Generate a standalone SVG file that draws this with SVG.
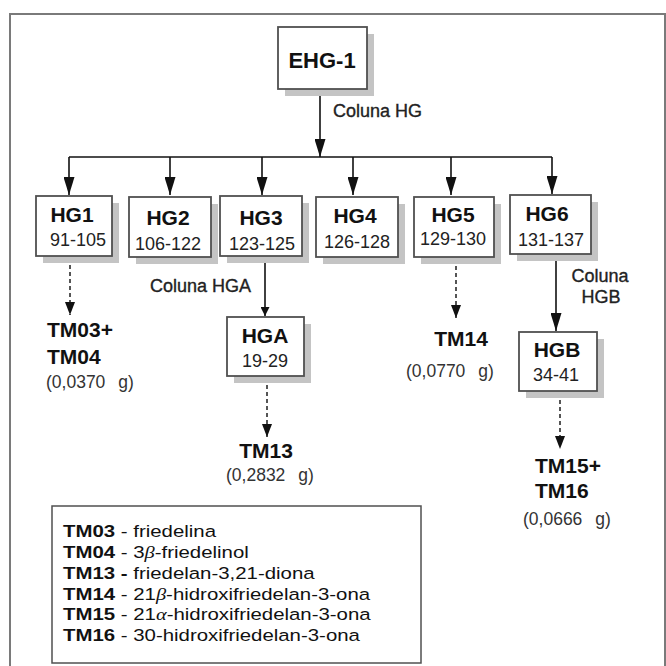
<svg xmlns="http://www.w3.org/2000/svg" width="666" height="666" viewBox="0 0 666 666">
  <style>
    .frame { fill: #ffffff; stroke: #7a7a7a; stroke-width: 2; }
    .shadow { fill: #c4c4c4; }
    .box { fill: #ffffff; stroke: #505050; stroke-width: 1.8; }
    .title { font-family: "Liberation Sans", Arial, sans-serif; font-weight: bold; font-size: 21px; fill: #111; text-anchor: middle; }
    .root { font-size: 22px; }
    .range { font-family: "Liberation Sans", Arial, sans-serif; font-size: 18px; fill: #222; text-anchor: middle; }
    .col { font-family: "Liberation Sans", Arial, sans-serif; font-size: 18px; fill: #222; stroke: #222; stroke-width: 0.35; }
    .prod { font-family: "Liberation Sans", Arial, sans-serif; font-weight: bold; font-size: 21px; fill: #111; }
    .mass { font-family: "Liberation Sans", Arial, sans-serif; font-size: 17.5px; fill: #333; }
    .legend { fill: #ffffff; stroke: #505050; stroke-width: 1.5; }
    .leg { font-family: "Liberation Sans", Arial, sans-serif; font-size: 17px; fill: #111; }
    .leg .k { font-weight: bold; }
    .leg .g { font-family: "Liberation Serif", "Times New Roman", serif; font-style: italic; }
    .solid { fill: none; stroke: #111; stroke-width: 1.6; }
    .dash { fill: none; stroke: #555; stroke-width: 2; stroke-dasharray: 4 3; }
  </style>
  <defs>
    <marker id="ahBig" markerUnits="userSpaceOnUse" viewBox="0 0 18 11" markerWidth="18" markerHeight="11" refX="18" refY="5.5" orient="auto">
      <path d="M0,0 L18,5.5 L0,11 z" fill="#111"/>
    </marker>
    <marker id="ahSmall" markerUnits="userSpaceOnUse" viewBox="0 0 9 9" markerWidth="9" markerHeight="9" refX="9" refY="4.5" orient="auto">
      <path d="M0,0 L9,4.5 L0,9 z" fill="#111"/>
    </marker>
    <marker id="ahDash" markerUnits="userSpaceOnUse" viewBox="0 0 13 10" markerWidth="13" markerHeight="10" refX="13" refY="5" orient="auto">
      <path d="M0,0 L13,5 L0,10 z" fill="#111"/>
    </marker>
  </defs>

  <!-- outer frame -->
  <rect class="frame" x="10" y="14" width="655" height="670"/>

  <!-- connectors -->
  <g id="connectors">
    <line class="solid" x1="320" y1="89" x2="320" y2="157" marker-end="url(#ahBig)"/>
    <line class="solid" x1="69" y1="157" x2="552" y2="157"/>
    <line class="solid" x1="69" y1="157" x2="69" y2="195" marker-end="url(#ahBig)"/>
    <line class="solid" x1="170" y1="157" x2="170" y2="195" marker-end="url(#ahBig)"/>
    <line class="solid" x1="262" y1="157" x2="262" y2="195" marker-end="url(#ahBig)"/>
    <line class="solid" x1="353" y1="157" x2="353" y2="195" marker-end="url(#ahBig)"/>
    <line class="solid" x1="451" y1="157" x2="451" y2="195" marker-end="url(#ahBig)"/>
    <line class="solid" x1="552" y1="157" x2="552" y2="194" marker-end="url(#ahBig)"/>
    <line class="solid" x1="265" y1="256" x2="265" y2="316" marker-end="url(#ahSmall)"/>
    <line class="solid" x1="556" y1="254" x2="556" y2="331" marker-end="url(#ahBig)"/>
    <line class="dash" x1="70" y1="258" x2="70" y2="315" marker-end="url(#ahDash)"/>
    <line class="dash" x1="456" y1="259" x2="456" y2="318" marker-end="url(#ahDash)"/>
    <line class="dash" x1="267" y1="378" x2="267" y2="437" marker-end="url(#ahDash)"/>
    <line class="dash" x1="560" y1="393" x2="560" y2="449" marker-end="url(#ahDash)"/>
    <text class="col" x="333" y="117">Coluna HG</text>
    <text class="col" x="150" y="292">Coluna HGA</text>
    <text class="col" x="600" y="282" text-anchor="middle">Coluna</text>
    <text class="col" x="601" y="303" text-anchor="middle">HGB</text>
  </g>

  <!-- root extract -->
  <g id="EHG-1">
    <rect class="shadow" x="285" y="34" width="89" height="62"/>
    <rect class="box" x="278" y="27" width="89" height="62"/>
    <text class="title root" x="322" y="68">EHG-1</text>
  </g>

  <!-- fractions from column HG -->
  <g id="HG1">
    <rect class="shadow" x="43" y="203" width="76" height="60"/>
    <rect class="box" x="36" y="196" width="76" height="60"/>
    <text class="title" x="72" y="222">HG1</text>
    <text class="range" x="78" y="246">91-105</text>
  </g>
  <g id="HG2">
    <rect class="shadow" x="136" y="204" width="82" height="60"/>
    <rect class="box" x="129" y="197" width="82" height="60"/>
    <text class="title" x="168" y="225">HG2</text>
    <text class="range" x="168" y="250">106-122</text>
  </g>
  <g id="HG3">
    <rect class="shadow" x="227" y="203" width="82" height="60"/>
    <rect class="box" x="220" y="196" width="82" height="60"/>
    <text class="title" x="261" y="225">HG3</text>
    <text class="range" x="262" y="250">123-125</text>
  </g>
  <g id="HG4">
    <rect class="shadow" x="323" y="204" width="82" height="60"/>
    <rect class="box" x="316" y="197" width="82" height="60"/>
    <text class="title" x="355" y="223">HG4</text>
    <text class="range" x="357" y="248">126-128</text>
  </g>
  <g id="HG5">
    <rect class="shadow" x="421" y="204" width="80" height="60"/>
    <rect class="box" x="414" y="197" width="80" height="60"/>
    <text class="title" x="453" y="222">HG5</text>
    <text class="range" x="453" y="245">129-130</text>
  </g>
  <g id="HG6">
    <rect class="shadow" x="517" y="202" width="81" height="59"/>
    <rect class="box" x="510" y="195" width="81" height="59"/>
    <text class="title" x="547" y="221">HG6</text>
    <text class="range" x="551" y="246">131-137</text>
  </g>

  <!-- sub-columns -->
  <g id="HGA">
    <rect class="shadow" x="234" y="324" width="77" height="59"/>
    <rect class="box" x="227" y="317" width="77" height="59"/>
    <text class="title" x="265" y="343">HGA</text>
    <text class="range" x="265" y="367">19-29</text>
  </g>
  <g id="HGB">
    <rect class="shadow" x="526" y="339" width="78" height="59"/>
    <rect class="box" x="519" y="332" width="78" height="59"/>
    <text class="title" x="557" y="357">HGB</text>
    <text class="range" x="556" y="381">34-41</text>
  </g>

  <!-- isolated compounds -->
  <g id="TM03-TM04">
    <text class="prod" x="47" y="337">TM03+</text>
    <text class="prod" x="47" y="364">TM04</text>
    <text class="mass" x="46" y="388">(0,0370<tspan dx="13">g)</tspan></text>
  </g>
  <g id="TM14">
    <text class="prod" x="461" y="346" text-anchor="middle">TM14</text>
    <text class="mass" x="406" y="377">(0,0770<tspan dx="13">g)</tspan></text>
  </g>
  <g id="TM13">
    <text class="prod" x="266" y="458" text-anchor="middle">TM13</text>
    <text class="mass" x="226" y="481">(0,2832<tspan dx="13">g)</tspan></text>
  </g>
  <g id="TM15-TM16">
    <text class="prod" x="535" y="473">TM15+</text>
    <text class="prod" x="535" y="498">TM16</text>
    <text class="mass" x="523" y="525">(0,0666<tspan dx="13">g)</tspan></text>
  </g>

  <!-- key -->
  <g id="legend">
    <rect class="legend" x="52" y="506" width="369" height="157"/>
    <g class="leg" transform="translate(63 0) scale(1.2 1)">
      <text x="0" y="537"><tspan class="k">TM03</tspan> - friedelina</text>
      <text x="0" y="558"><tspan class="k">TM04</tspan> - 3<tspan class="g">β</tspan>-friedelinol</text>
      <text x="0" y="579"><tspan class="k">TM13 -</tspan> friedelan-3,21-diona</text>
      <text x="0" y="600"><tspan class="k">TM14</tspan> - 21<tspan class="g">β</tspan>-hidroxifriedelan-3-ona</text>
      <text x="0" y="620"><tspan class="k">TM15</tspan> - 21<tspan class="g">α</tspan>-hidroxifriedelan-3-ona</text>
      <text x="0" y="641"><tspan class="k">TM16</tspan> - 30-hidroxifriedelan-3-ona</text>
    </g>
  </g>
</svg>
